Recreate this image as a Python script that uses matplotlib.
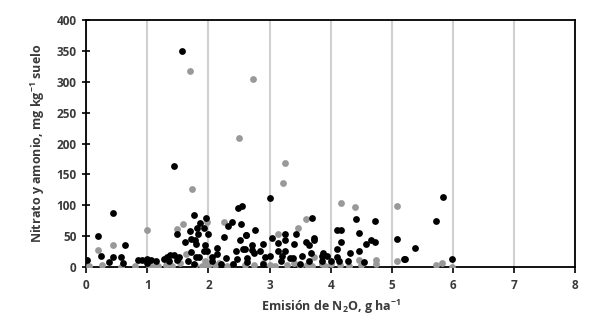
import matplotlib
matplotlib.use("Agg")
import matplotlib.pyplot as plt

# black series (emision N2O, nitrato y amonio)
black_x = [1.57, 1.43, 0.44, 0.20, 0.64, 0.25, 0.02, 0.44, 0.57, 0.38, 0.61, 0.85, 0.91, 0.99,
           1.06, 1.15, 0.99, 1.27, 1.33, 1.37, 1.44, 1.52, 1.35, 1.48, 1.67, 1.77, 1.48, 1.77,
           1.70, 1.62, 1.71, 1.78, 1.81, 1.87, 1.83, 1.96, 1.92, 1.99, 1.79, 1.94, 1.98, 1.92,
           1.72, 1.85, 1.80, 2.06, 2.14, 2.14, 2.32, 2.38, 2.25, 2.48, 2.55, 2.54, 2.61, 2.52,
           2.45, 2.57, 2.29, 2.47, 2.63, 2.06, 3.01, 4.41, 4.73, 4.10, 4.17, 4.47, 4.17, 4.66,
           4.73, 4.57, 5.08, 5.20, 3.69, 2.76, 3.26, 3.43, 3.04, 3.26, 3.13, 3.40, 3.60, 3.64,
           3.73, 3.73, 2.62, 2.90, 2.71, 2.71, 2.85, 2.60, 2.75, 3.13, 3.26, 3.20, 3.68, 3.53,
           4.10, 4.10, 4.32, 4.47, 3.88, 3.94, 3.86, 4.29, 4.54, 4.13, 3.01, 2.93, 3.34, 3.39,
           3.18, 3.64, 2.63, 3.86, 5.83, 5.73, 5.38, 5.21, 5.99, 2.20, 2.90, 3.50, 4.00, 2.40]
black_y = [350, 163, 87, 50, 35, 18, 11, 16, 16, 8, 6, 11, 11, 13,
           11, 10, 6, 13, 16, 19, 19, 16, 9, 11, 10, 4, 53, 84,
           58, 41, 46, 44, 63, 71, 54, 79, 63, 54, 37, 35, 26, 26,
           24, 16, 16, 16, 31, 21, 66, 73, 48, 96, 99, 70, 52, 44,
           26, 29, 14, 13, 8, 10, 111, 77, 74, 60, 60, 55, 40, 43,
           40, 37, 45, 13, 79, 60, 54, 54, 47, 44, 38, 37, 41, 35,
           47, 44, 52, 37, 36, 28, 25, 29, 22, 25, 26, 17, 23, 18,
           29, 16, 23, 26, 22, 17, 17, 9, 8, 9, 17, 16, 14, 14,
           10, 10, 14, 10, 114, 74, 30, 13, 13, 5, 5, 4, 10, 4]

# gray series
gray_x = [1.70, 2.73, 2.50, 1.73, 0.99, 0.20, 0.44, 0.26, 0.57, 1.02, 1.10, 1.18, 1.48, 1.58,
          1.63, 1.54, 1.78, 1.98, 2.26, 2.17, 1.95, 3.25, 3.22, 4.17, 4.39, 5.08, 3.60, 3.46,
          3.13, 5.08, 2.74, 3.09, 3.40, 3.72, 3.86, 4.16, 4.46, 4.74, 4.74, 3.28, 3.61, 5.73,
          5.82, 5.99, 0.05, 0.80, 1.30, 1.40, 2.00, 2.10, 2.30, 2.40, 2.90, 3.00, 3.50, 3.90,
          4.00, 4.30, 4.50, 1.90, 2.60, 3.70]
gray_y = [317, 305, 209, 126, 60, 28, 35, 3, 0, 1, 0, 2, 62, 70,
          21, 6, 3, 73, 73, 6, 9, 168, 136, 104, 97, 99, 77, 63,
          53, 9, 3, 1, 6, 16, 5, 3, 11, 11, 5, 3, 3, 3,
          6, 0, 2, 1, 3, 2, 1, 3, 2, 4, 6, 3, 2, 2,
          4, 2, 3, 2, 3, 2]

x_ticks = [0, 1, 2, 3, 4, 5, 6, 7, 8]
y_ticks = [0, 50, 100, 150, 200, 250, 300, 350, 400]

plt.rcParams["font.family"] = ["Open Sans", "DejaVu Sans"]
plt.rcParams["mathtext.fontset"] = "custom"
plt.rcParams["mathtext.rm"] = "Open Sans:bold"
plt.rcParams["mathtext.default"] = "rm"

fig = plt.figure(figsize=(5.9, 3.2), dpi=100)
ax = fig.add_axes([0.146, 0.166, 0.829, 0.771])

ax.scatter(gray_x, gray_y, s=24, color="#999999", linewidths=0, zorder=3)
ax.scatter(black_x, black_y, s=24, color="black", linewidths=0, zorder=4)

ax.set_xlim(0, 8)
ax.set_ylim(0, 400)
ax.set_xticks(x_ticks)
ax.set_yticks(y_ticks)
ax.grid(axis="x", color="#d0d0d0", linewidth=1.5, zorder=0)
ax.set_axisbelow(True)

for side in ["left", "bottom", "top", "right"]:
    ax.spines[side].set_linewidth(1.3)
    ax.spines[side].set_color("black")

ax.tick_params(axis="y", direction="inout", length=6, width=1.2, labelsize=8.5,
               labelcolor="#3a3a3a", pad=4)
ax.tick_params(axis="x", direction="out", length=4, width=1.2, labelsize=8.5,
               labelcolor="#3a3a3a", pad=5)
for lbl in ax.get_xticklabels() + ax.get_yticklabels():
    lbl.set_fontweight("bold")

ax.set_xlabel("Emisión de N$_2$O, g ha$^{-1}$", fontsize=9, fontweight="bold",
              color="#3a3a3a", labelpad=4)
ax.set_ylabel("Nitrato y amonio, mg kg$^{-1}$ suelo", fontsize=9, fontweight="bold",
              color="#3a3a3a", labelpad=7)

fig.savefig("out.png", dpi=100)
